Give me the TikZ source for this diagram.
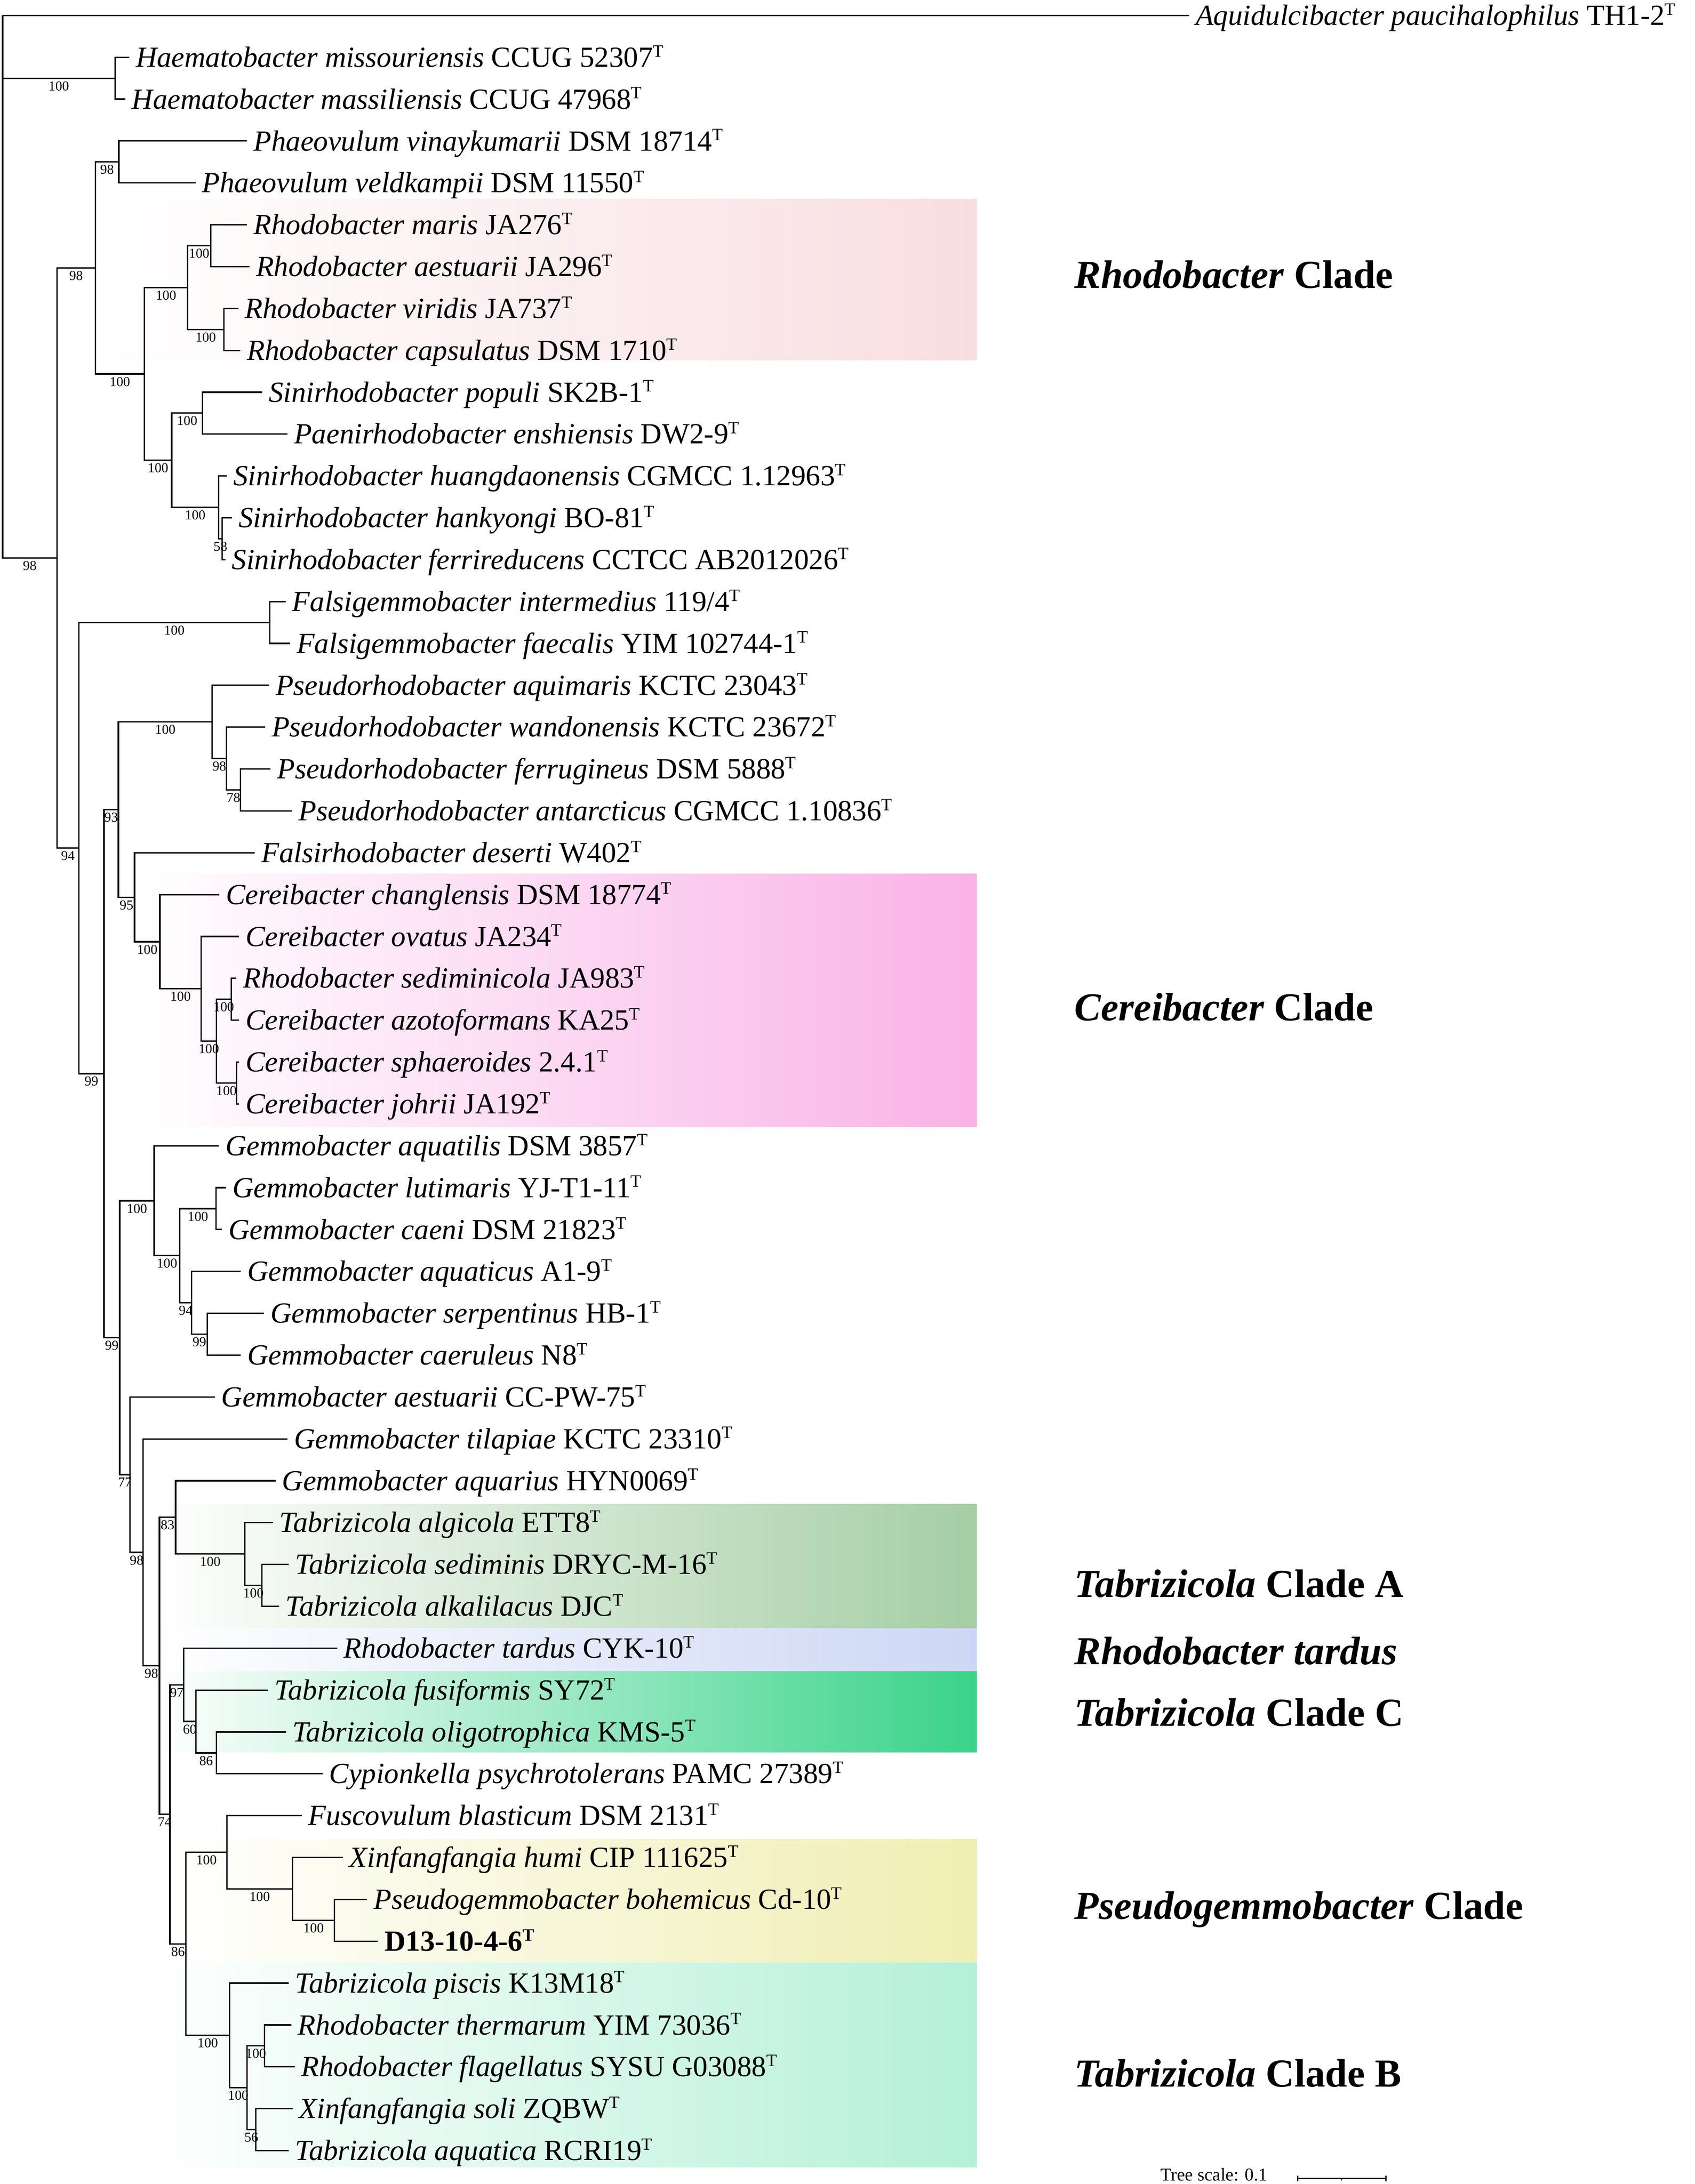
\documentclass[tikz,border=0pt]{standalone}
\usepackage{fontspec}
\usetikzlibrary{calc}
\setmainfont{Liberation Serif}
\definecolor{rhodoC}{RGB}{248,222,225}
\definecolor{cereC}{RGB}{249,178,231}
\definecolor{tabAC}{RGB}{165,206,165}
\definecolor{tardC}{RGB}{205,215,245}
\definecolor{tabCC}{RGB}{58,211,138}
\definecolor{pseuC}{RGB}{240,238,178}
\definecolor{tabBC}{RGB}{180,240,215}
\newcommand\Ly[1]{11.1+30.09*(#1-1)}
\newcommand\sT{\raisebox{7.3pt}{\fontsize{12.5}{13}\selectfont T}}
\newcommand\leafnode[4]{\coordinate (#1) at (#3,{\Ly{#2}}); \node[leaf] (#1t) at (#1) {#4};}
\newcommand\inode[3]{\coordinate (#1) at (#3,{\Ly{#2}});}
\newcommand\brl[3]{\draw[branch] (#1) |- (#2) node[boot,pos=0.75] (b#2) {#3};}
\newcommand\brn[2]{\draw[branch] (#1) |- (#2);}
\begin{document}
\begin{tikzpicture}[x=1pt,y=-1pt,
  branch/.style={line width=1pt},
  leaf/.style={anchor=west, inner xsep=4.5pt, inner ysep=0pt, text height=13.9pt, text depth=0pt, font=\fontsize{21}{24}\selectfont},
  boot/.style={anchor=north, inner sep=0pt, yshift=-1.8pt, font=\fontsize{9.8}{10}\selectfont},
  clade/.style={anchor=base west, inner sep=0pt, font=\fontsize{28.5}{32}\selectfont\bfseries}]
\useasboundingbox (0,0) rectangle (1218,1569.74);
% clade shading
\shade[left color=white, right color=rhodoC] (77,143.0) rectangle (702,258.7);
\shade[left color=white, right color=cereC] (100,628.0) rectangle (702,809.8);
\shade[left color=white, right color=tabAC] (110,1081.0) rectangle (702,1170.1);
\shade[left color=white, right color=tardC] (110,1170.1) rectangle (702,1201.3);
\shade[left color=white, right color=tabCC] (110,1201.3) rectangle (702,1259.4);
\shade[left color=white, right color=pseuC] (120,1321.8) rectangle (702,1410.6);
\shade[left color=white, right color=tabBC] (110,1410.6) rectangle (702,1557.6);
% leaves
\leafnode{l1}{1}{854.6}{\textit{Aquidulcibacter paucihalophilus} TH1-2\sT}
\leafnode{l2}{2}{93.0}{\textit{Haematobacter missouriensis} CCUG 52307\sT}
\leafnode{l3}{3}{90.1}{\textit{Haematobacter massiliensis} CCUG 47968\sT}
\leafnode{l4}{4}{177.5}{\textit{Phaeovulum vinaykumarii} DSM 18714\sT}
\leafnode{l5}{5}{140.5}{\textit{Phaeovulum veldkampii} DSM 11550\sT}
\leafnode{l6}{6}{177.5}{\textit{Rhodobacter maris} JA276\sT}
\leafnode{l7}{7}{179.3}{\textit{Rhodobacter aestuarii} JA296\sT}
\leafnode{l8}{8}{171.3}{\textit{Rhodobacter viridis} JA737\sT}
\leafnode{l9}{9}{172.8}{\textit{Rhodobacter capsulatus} DSM 1710\sT}
\leafnode{l10}{10}{188.4}{\textit{Sinirhodobacter populi} SK2B-1\sT}
\leafnode{l11}{11}{206.6}{\textit{Paenirhodobacter enshiensis} DW2-9\sT}
\leafnode{l12}{12}{163.0}{\textit{Sinirhodobacter huangdaonensis} CGMCC 1.12963\sT}
\leafnode{l13}{13}{166.8}{\textit{Sinirhodobacter hankyongi} BO-81\sT}
\leafnode{l14}{14}{161.9}{\textit{Sinirhodobacter ferrireducens} CCTCC AB2012026\sT}
\leafnode{l15}{15}{205.3}{\textit{Falsigemmobacter intermedius} 119/4\sT}
\leafnode{l16}{16}{208.5}{\textit{Falsigemmobacter faecalis} YIM 102744-1\sT}
\leafnode{l17}{17}{193.4}{\textit{Pseudorhodobacter aquimaris} KCTC 23043\sT}
\leafnode{l18}{18}{190.6}{\textit{Pseudorhodobacter wandonensis} KCTC 23672\sT}
\leafnode{l19}{19}{194.4}{\textit{Pseudorhodobacter ferrugineus} DSM 5888\sT}
\leafnode{l20}{20}{210.0}{\textit{Pseudorhodobacter antarcticus} CGMCC 1.10836\sT}
\leafnode{l21}{21}{183.1}{\textit{Falsirhodobacter deserti} W402\sT}
\leafnode{l22}{22}{157.7}{\textit{Cereibacter changlensis} DSM 18774\sT}
\leafnode{l23}{23}{171.8}{\textit{Cereibacter ovatus} JA234\sT}
\leafnode{l24}{24}{170.0}{\textit{Rhodobacter sediminicola} JA983\sT}
\leafnode{l25}{25}{171.8}{\textit{Cereibacter azotoformans} KA25\sT}
\leafnode{l26}{26}{171.8}{\textit{Cereibacter sphaeroides} 2.4.1\sT}
\leafnode{l27}{27}{171.8}{\textit{Cereibacter johrii} JA192\sT}
\leafnode{l28}{28}{157.4}{\textit{Gemmobacter aquatilis} DSM 3857\sT}
\leafnode{l29}{29}{162.4}{\textit{Gemmobacter lutimaris} YJ-T1-11\sT}
\leafnode{l30}{30}{159.6}{\textit{Gemmobacter caeni} DSM 21823\sT}
\leafnode{l31}{31}{173.1}{\textit{Gemmobacter aquaticus} A1-9\sT}
\leafnode{l32}{32}{189.7}{\textit{Gemmobacter serpentinus} HB-1\sT}
\leafnode{l33}{33}{173.1}{\textit{Gemmobacter caeruleus} N8\sT}
\leafnode{l34}{34}{154.4}{\textit{Gemmobacter aestuarii} CC-PW-75\sT}
\leafnode{l35}{35}{206.6}{\textit{Gemmobacter tilapiae} KCTC 23310\sT}
\leafnode{l36}{36}{198.1}{\textit{Gemmobacter aquarius} HYN0069\sT}
\leafnode{l37}{37}{196.2}{\textit{Tabrizicola algicola} ETT8\sT}
\leafnode{l38}{38}{207.5}{\textit{Tabrizicola sediminis} DRYC-M-16\sT}
\leafnode{l39}{39}{200.6}{\textit{Tabrizicola alkalilacus} DJC\sT}
\leafnode{l40}{40}{242.3}{\textit{Rhodobacter tardus} CYK-10\sT}
\leafnode{l41}{41}{192.5}{\textit{Tabrizicola fusiformis} SY72\sT}
\leafnode{l42}{42}{205.6}{\textit{Tabrizicola oligotrophica} KMS-5\sT}
\leafnode{l43}{43}{231.9}{\textit{Cypionkella psychrotolerans} PAMC 27389\sT}
\leafnode{l44}{44}{216.9}{\textit{Fuscovulum blasticum} DSM 2131\sT}
\leafnode{l45}{45}{246.4}{\textit{Xinfangfangia humi} CIP 111625\sT}
\leafnode{l46}{46}{263.8}{\textit{Pseudogemmobacter bohemicus} Cd-10\sT}
\leafnode{l47}{47}{271.7}{\textbf{D13-10-4-6\sT}}
\leafnode{l48}{48}{207.5}{\textit{Tabrizicola piscis} K13M18\sT}
\leafnode{l49}{49}{209.4}{\textit{Rhodobacter thermarum} YIM 73036\sT}
\leafnode{l50}{50}{211.8}{\textit{Rhodobacter flagellatus} SYSU G03088\sT}
\leafnode{l51}{51}{210.3}{\textit{Xinfangfangia soli} ZQBW\sT}
\leafnode{l52}{52}{207.5}{\textit{Tabrizicola aquatica} RCRI19\sT}
% internal nodes
\inode{root}{1}{1.9}
\inode{nH}{2.5}{82.6}
\inode{nP}{4.5}{85.4}
\inode{nE}{6.5}{151.4}
\inode{nF}{8.5}{160.9}
\inode{nD}{7.5}{134.8}
\inode{nI}{10.5}{145.5}
\inode{nK}{13.5}{159.6}
\inode{nJ}{12.75}{157.2}
\inode{nG}{11.625}{123.4}
\inode{nC}{9.5625}{103.8}
\inode{nB}{7.03125}{68.5}
\inode{nM}{15.5}{193.8}
\inode{nS}{19.5}{172.8}
\inode{nR}{18.75}{162.8}
\inode{nQ}{17.875}{152.5}
\inode{nX}{24.5}{166.2}
\inode{nY}{26.5}{170.0}
\inode{nW}{25.5}{155.5}
\inode{nV}{24.25}{144.6}
\inode{nU}{23.125}{114.9}
\inode{nT}{22.0625}{96.7}
\inode{nO}{19.96875}{85.1}
\inode{nAC}{29.5}{155.3}
\inode{nAE}{32.5}{148.9}
\inode{nAD}{31.75}{137.7}
\inode{nAB}{30.625}{129.2}
\inode{nAA}{29.3125}{110.8}
\inode{nAK}{38.5}{188.2}
\inode{nAJ}{37.75}{176.0}
\inode{nAI}{36.875}{126.2}
\inode{nAO}{42.5}{155.5}
\inode{nAN}{41.75}{140.8}
\inode{nAM}{40.875}{132.0}
\inode{nAS}{46.5}{240.4}
\inode{nAR}{45.75}{210.3}
\inode{nAQ}{44.875}{163.0}
\inode{nAV}{49.5}{190.2}
\inode{nAW}{51.5}{183.7}
\inode{nAU}{50.5}{177.5}
\inode{nAT}{49.25}{164.9}
\inode{nAP}{47.0625}{133.7}
\inode{nAL}{43.96875}{122.1}
\inode{nAH}{40.421875}{114.6}
\inode{nAG}{37.7109375}{102.9}
\inode{nAF}{35.85546875}{93.5}
\inode{nZ}{32.583984375}{86.0}
\inode{nN}{26.2763671875}{74.7}
\inode{nL}{20.88818359375}{56.7}
\inode{nA}{13.959716796875}{40.9}
% branches
\brn{root}{l1}
\brl{root}{nH}{100}
\brl{root}{nA}{98}
\brn{nH}{l2} \brn{nH}{l3}
\brl{nA}{nB}{98} \brl{nA}{nL}{94}
\brl{nB}{nP}{98} \brl{nB}{nC}{100}
\brn{nP}{l4} \brn{nP}{l5}
\brl{nC}{nD}{100} \brl{nC}{nG}{100}
\brl{nD}{nE}{100} \brl{nD}{nF}{100}
\brn{nE}{l6} \brn{nE}{l7}
\brn{nF}{l8} \brn{nF}{l9}
\brl{nG}{nI}{100} \brl{nG}{nJ}{100}
\brn{nI}{l10} \brn{nI}{l11}
\brn{nJ}{l12} \brl{nJ}{nK}{58}
\brn{nK}{l13} \brn{nK}{l14}
\brl{nL}{nM}{100} \brl{nL}{nN}{99}
\brn{nM}{l15} \brn{nM}{l16}
\brl{nN}{nO}{93} \brl{nN}{nZ}{99}
\brl{nO}{nQ}{100} \brl{nO}{nT}{95}
\brn{nQ}{l17} \brl{nQ}{nR}{98}
\brn{nR}{l18} \brl{nR}{nS}{78}
\brn{nS}{l19} \brn{nS}{l20}
\brn{nT}{l21} \brl{nT}{nU}{100}
\brn{nU}{l22} \brl{nU}{nV}{100}
\brn{nV}{l23} \brl{nV}{nW}{100}
\brl{nW}{nX}{100} \brl{nW}{nY}{100}
\brn{nX}{l24} \brn{nX}{l25}
\brn{nY}{l26} \brn{nY}{l27}
\brl{nZ}{nAA}{100} \brl{nZ}{nAF}{77}
\brn{nAA}{l28} \brl{nAA}{nAB}{100}
\brl{nAB}{nAC}{100} \brl{nAB}{nAD}{94}
\brn{nAC}{l29} \brn{nAC}{l30}
\brn{nAD}{l31} \brl{nAD}{nAE}{99}
\brn{nAE}{l32} \brn{nAE}{l33}
\brn{nAF}{l34} \brl{nAF}{nAG}{98}
\brn{nAG}{l35} \brl{nAG}{nAH}{98}
\brl{nAH}{nAI}{83} \brl{nAH}{nAL}{74}
\brn{nAI}{l36} \brl{nAI}{nAJ}{100}
\brn{nAJ}{l37} \brl{nAJ}{nAK}{100}
\brn{nAK}{l38} \brn{nAK}{l39}
\brl{nAL}{nAM}{97} \brl{nAL}{nAP}{86}
\brn{nAM}{l40} \brl{nAM}{nAN}{60}
\brn{nAN}{l41} \brl{nAN}{nAO}{86}
\brn{nAO}{l42} \brn{nAO}{l43}
\brl{nAP}{nAQ}{100} \brl{nAP}{nAT}{100}
\brn{nAQ}{l44} \brl{nAQ}{nAR}{100}
\brn{nAR}{l45} \brl{nAR}{nAS}{100}
\brn{nAS}{l46} \brn{nAS}{l47}
\brn{nAT}{l48} \brl{nAT}{nAU}{100}
\brl{nAU}{nAV}{100} \brl{nAU}{nAW}{56}
\brn{nAV}{l49} \brn{nAV}{l50}
\brn{nAW}{l51} \brn{nAW}{l52}
% clade titles
\node[clade] (c1) at (772,206.9) {\textit{Rhodobacter} Clade};
\node[clade] (c2) at (772,733.5) {\textit{Cereibacter} Clade};
\node[clade] (c3) at (772,1147.8) {\textit{Tabrizicola} Clade A};
\node[clade] (c4) at (772,1196.2) {\textit{Rhodobacter tardus}};
\node[clade] (c5) at (772,1240.4) {\textit{Tabrizicola} Clade C};
\node[clade] (c6) at (772,1379.4) {\textit{Pseudogemmobacter} Clade};
\node[clade] (c7) at (772,1500.0) {\textit{Tabrizicola} Clade B};
% scale bar
\node[anchor=base west, inner sep=0pt, font=\fontsize{13}{14}\selectfont] (ts) at (833.8,1567.5) {Tree scale: 0.1};
\coordinate (sb1) at (932.5,1565.8);
\coordinate (sb2) at (996,1565.8);
\coordinate (sbm) at ($(sb1)!0.5!(sb2)$);
\draw[line width=0.9pt] (sb1) -- (sb2);
\draw[line width=0.9pt] ([yshift=2pt]sb1) -- ([yshift=-2pt]sb1);
\draw[line width=0.9pt] ([yshift=2pt]sb2) -- ([yshift=-2pt]sb2);
\draw[line width=0.6pt] (sbm) -- ([yshift=-1.5pt]sbm);
\end{tikzpicture}
\end{document}
